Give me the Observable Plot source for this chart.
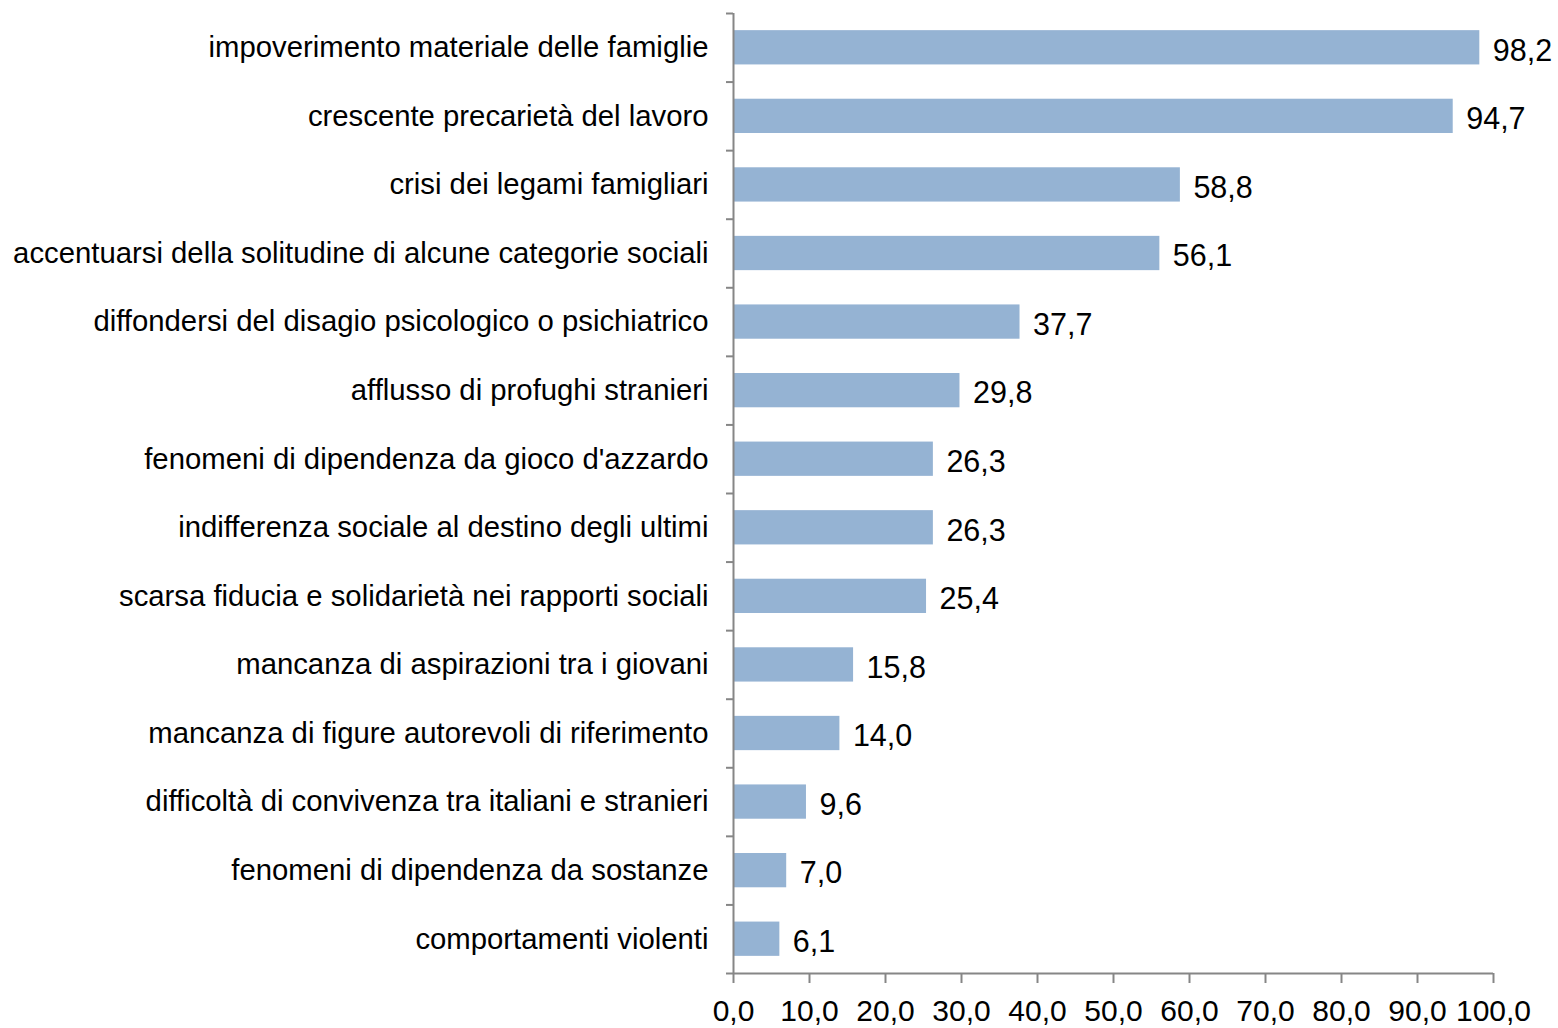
<!DOCTYPE html>
<html>
<head>
<meta charset="utf-8">
<script src="https://cdn.jsdelivr.net/npm/d3@7"></script>
<script src="https://cdn.jsdelivr.net/npm/@observablehq/plot@0.6"></script>
<style>
  html, body { margin: 0; padding: 0; background: #fff; }
  #chart svg { display: block; }
</style>
</head>
<body>
<div id="chart"></div>
<script>
const categories = [
  "impoverimento materiale delle famiglie",
  "crescente precarietà del lavoro",
  "crisi dei legami famigliari",
  "accentuarsi della solitudine di alcune categorie sociali",
  "diffondersi del disagio psicologico o psichiatrico",
  "afflusso di profughi stranieri",
  "fenomeni di dipendenza da gioco d'azzardo",
  "indifferenza sociale al destino degli ultimi",
  "scarsa fiducia e solidarietà nei rapporti sociali",
  "mancanza di aspirazioni tra i giovani",
  "mancanza di figure autorevoli di riferimento",
  "difficoltà di convivenza tra italiani e stranieri",
  "fenomeni di dipendenza da sostanze",
  "comportamenti violenti"
];
const values = [98.2, 94.7, 58.8, 56.1, 37.7, 29.8, 26.3, 26.3, 25.4, 15.8, 14.0, 9.6, 7.0, 6.1];
const xTicks = [0, 10, 20, 30, 40, 50, 60, 70, 80, 90, 100];

const data = categories.map((c, i) => ({category: c, value: values[i]}));
const fmt = v => v.toFixed(1).replace(".", ",");

const width = 1558, height = 1028;
const mt = 13, mb = 55, ml = 733, mr = 65;
const step = (height - mt - mb) / categories.length;
const axisColor = "#868686";
const font = "Liberation Sans, Arial, sans-serif";

const chart = Plot.plot({
  width, height,
  marginTop: mt, marginBottom: mb, marginLeft: ml, marginRight: mr,
  style: {fontFamily: font, background: "#fff"},
  x: {domain: [0, 100]},
  y: {domain: categories, paddingInner: 0.5, paddingOuter: 0.25, round: false},
  marks: [
    Plot.barX(data, {x: "value", y: "category", fill: "#95B3D3"}),
    Plot.text(data, {x: "value", y: "category", text: d => fmt(d.value), textAnchor: "start", dx: 13, dy: 3, fontSize: 30.5, fill: "#000"}),
    // y axis labels
    Plot.axisY({tickSize: 0, tickPadding: 25, fontSize: 29.3, fill: "#000", label: null}),
    // y axis tick marks at band boundaries
    Plot.axisY({ticks: categories, tickSize: 7, tickFormat: () => "", dy: -step / 2, stroke: axisColor, strokeWidth: 2, label: null}),
    Plot.axisY({ticks: [categories[categories.length - 1]], tickSize: 7, tickFormat: () => "", dy: step / 2, stroke: axisColor, strokeWidth: 2, label: null}),
    Plot.ruleX([0], {stroke: axisColor, strokeWidth: 2}),
    // x axis
    Plot.ruleY([0], {x1: 0, x2: 100, y: () => categories[categories.length - 1], dy: step / 2, stroke: axisColor, strokeWidth: 2}),
    Plot.axisX({ticks: xTicks, tickSize: 10, tickPadding: 16, tickFormat: fmt, fontSize: 30, fill: "#000", stroke: axisColor, strokeWidth: 2, label: null})
  ]
});
document.getElementById("chart").appendChild(chart);
</script>
</body>
</html>
